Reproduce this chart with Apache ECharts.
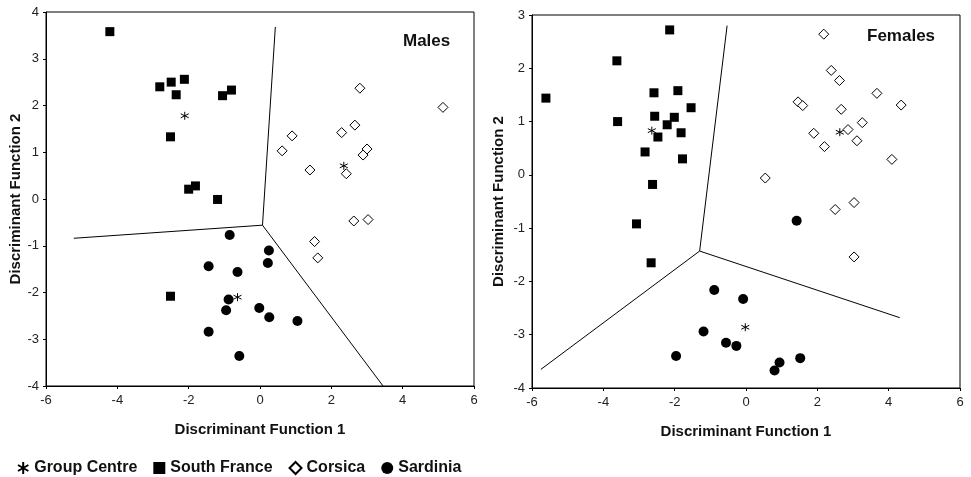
<!DOCTYPE html>
<html>
<head>
<meta charset="utf-8">
<script src="https://cdn.jsdelivr.net/npm/echarts@6/dist/echarts.min.js"></script>
<style>html,body{margin:0;padding:0;background:#fff}#c{width:971px;height:477px}</style>
</head>
<body>
<div id="c"></div>
<script>
// ---- Males ----
const malesSouthFrance = [[-4.21,3.58],[-2.81,2.40],[-2.49,2.50],[-2.12,2.56],[-2.35,2.23],[-1.05,2.21],[-0.80,2.33],[-2.51,1.33],[-2.00,0.21],[-1.81,0.28],[-1.19,-0.01],[-2.51,-2.08]];
const malesCorsica = [[2.80,2.37],[5.13,1.96],[2.66,1.58],[2.29,1.42],[0.90,1.35],[0.62,1.03],[3.00,1.07],[2.89,0.94],[1.40,0.62],[2.42,0.54],[2.63,-0.47],[3.03,-0.44],[1.53,-0.91],[1.62,-1.26]];
const malesSardinia = [[-0.85,-0.77],[-1.44,-1.44],[-0.63,-1.56],[-0.88,-2.15],[-0.95,-2.38],[-1.44,-2.84],[-0.58,-3.36],[0.25,-1.10],[0.22,-1.37],[-0.02,-2.33],[0.26,-2.53],[1.05,-2.61]];
const malesCentres = [[-2.11,1.78],[2.35,0.71],[-0.63,-2.10]];
const malesBoundary1 = [[0.43,3.68],[0.07,-0.56],[-5.22,-0.84]];
const malesBoundary2 = [[0.07,-0.56],[3.45,-4.0]];
// ---- Females ----
const femalesSouthFrance = [[-2.14,2.72],[-3.62,2.14],[-5.61,1.44],[-2.58,1.54],[-1.91,1.58],[-1.54,1.26],[-3.60,1.00],[-2.56,1.10],[-2.01,1.08],[-2.21,0.94],[-1.82,0.79],[-2.47,0.71],[-2.83,0.43],[-1.78,0.30],[-2.62,-0.18],[-3.07,-0.92],[-2.66,-1.65]];
const femalesCorsica = [[2.18,2.64],[2.39,1.96],[2.62,1.77],[3.67,1.53],[4.35,1.31],[1.46,1.37],[1.59,1.30],[2.67,1.23],[3.26,0.98],[2.86,0.85],[1.90,0.78],[3.11,0.64],[2.20,0.53],[4.09,0.29],[0.54,-0.06],[2.50,-0.65],[3.03,-0.52],[3.03,-1.54]];
const femalesSardinia = [[-0.89,-2.16],[-1.19,-2.94],[-0.56,-3.15],[-1.96,-3.40],[1.42,-0.86],[-0.08,-2.33],[-0.27,-3.21],[1.52,-3.44],[0.94,-3.52],[0.80,-3.67]];
const femalesCentres = [[-2.64,0.83],[2.63,0.80],[-0.02,-2.86]];
const femalesBoundary1 = [[-0.53,2.80],[-1.30,-1.43],[-5.75,-3.65]];
const femalesBoundary2 = [[-1.30,-1.43],[4.31,-2.68]];

const xTicks = [-6,-4,-2,0,2,4,6];
const panelTitles = ['Males','Females'];
const axisTitleX = 'Discriminant Function 1';
const axisTitleY = 'Discriminant Function 2';
const legendNames = ['Group Centre','South France','Corsica','Sardinia'];

const FONT = '"Liberation Sans", Arial, sans-serif';
const STAR = 'path://M0,-5L0,5M-4.33,-2.5L4.33,2.5M-4.33,2.5L4.33,-2.5';

function xAxis(gi){
  return {type:'value',gridIndex:gi,min:-6,max:6,interval:2,
    name:axisTitleX,nameLocation:'middle',nameGap:36,
    nameTextStyle:{fontFamily:FONT,fontWeight:'bold',fontSize:15,color:'#111'},
    axisLine:{show:true,onZero:false,lineStyle:{color:'#000',width:1}},
    axisTick:{show:true,length:3,lineStyle:{color:'#000'}},
    axisLabel:{fontFamily:FONT,fontSize:13,color:'#222',margin:8},
    splitLine:{show:false}};
}
function yAxis(gi,min,max,gap){
  return {type:'value',gridIndex:gi,min:min,max:max,interval:1,
    name:axisTitleY,nameLocation:'middle',nameGap:gap,nameRotate:90,
    nameTextStyle:{fontFamily:FONT,fontWeight:'bold',fontSize:15,color:'#111'},
    axisLine:{show:true,onZero:false,lineStyle:{color:'#000',width:1}},
    axisTick:{show:true,length:3,lineStyle:{color:'#000'}},
    axisLabel:{fontFamily:FONT,fontSize:13,color:'#222',margin:7},
    splitLine:{show:false}};
}
function sf(data,i){return {name:legendNames[1],type:'scatter',xAxisIndex:i,yAxisIndex:i,data:data,symbol:'rect',symbolSize:9,itemStyle:{color:'#000',opacity:1},z:3};}
function co(data,i){return {name:legendNames[2],type:'scatter',xAxisIndex:i,yAxisIndex:i,data:data,symbol:'diamond',symbolSize:10,itemStyle:{color:'#fff',borderColor:'#000',borderWidth:1,opacity:1},z:3};}
function sa(data,i){return {name:legendNames[3],type:'scatter',xAxisIndex:i,yAxisIndex:i,data:data,symbol:'circle',symbolSize:10,itemStyle:{color:'#000',opacity:1},z:3};}
function gc(data,i){return {name:legendNames[0],type:'scatter',xAxisIndex:i,yAxisIndex:i,data:data,symbol:STAR,symbolSize:8,itemStyle:{color:'transparent',borderColor:'#000',borderWidth:1,opacity:1},z:4};}
function ln(data,i){return {type:'line',xAxisIndex:i,yAxisIndex:i,data:data,symbol:'none',silent:true,lineStyle:{color:'#000',width:1},z:2};}

const chart = echarts.init(document.getElementById('c'),null,{renderer:'canvas'});
chart.setOption({
  animation:false,
  backgroundColor:'#fff',
  title:[
    {text:panelTitles[0],left:398,top:28,textStyle:{fontFamily:FONT,fontWeight:'bold',fontSize:17,color:'#111'}},
    {text:panelTitles[1],left:862,top:23,textStyle:{fontFamily:FONT,fontWeight:'bold',fontSize:17,color:'#111'}}
  ],
  legend:{data:legendNames,left:12,top:455,itemGap:16,itemWidth:12,itemHeight:12,
    textStyle:{fontFamily:FONT,fontWeight:'bold',fontSize:16,color:'#111'}},
  grid:[
    {left:46,right:497,top:12,bottom:91,show:true,borderColor:'#000',borderWidth:1,backgroundColor:'transparent'},
    {left:532,right:11,top:15,bottom:89,show:true,borderColor:'#000',borderWidth:1,backgroundColor:'transparent'}
  ],
  xAxis:[xAxis(0),xAxis(1)],
  yAxis:[yAxis(0,-4,4,20),yAxis(1,-4,3,26)],
  series:[
    ln(malesBoundary1,0),ln(malesBoundary2,0),
    sf(malesSouthFrance,0),co(malesCorsica,0),sa(malesSardinia,0),gc(malesCentres,0),
    ln(femalesBoundary1,1),ln(femalesBoundary2,1),
    sf(femalesSouthFrance,1),co(femalesCorsica,1),sa(femalesSardinia,1),gc(femalesCentres,1)
  ]
});
</script>
</body>
</html>
